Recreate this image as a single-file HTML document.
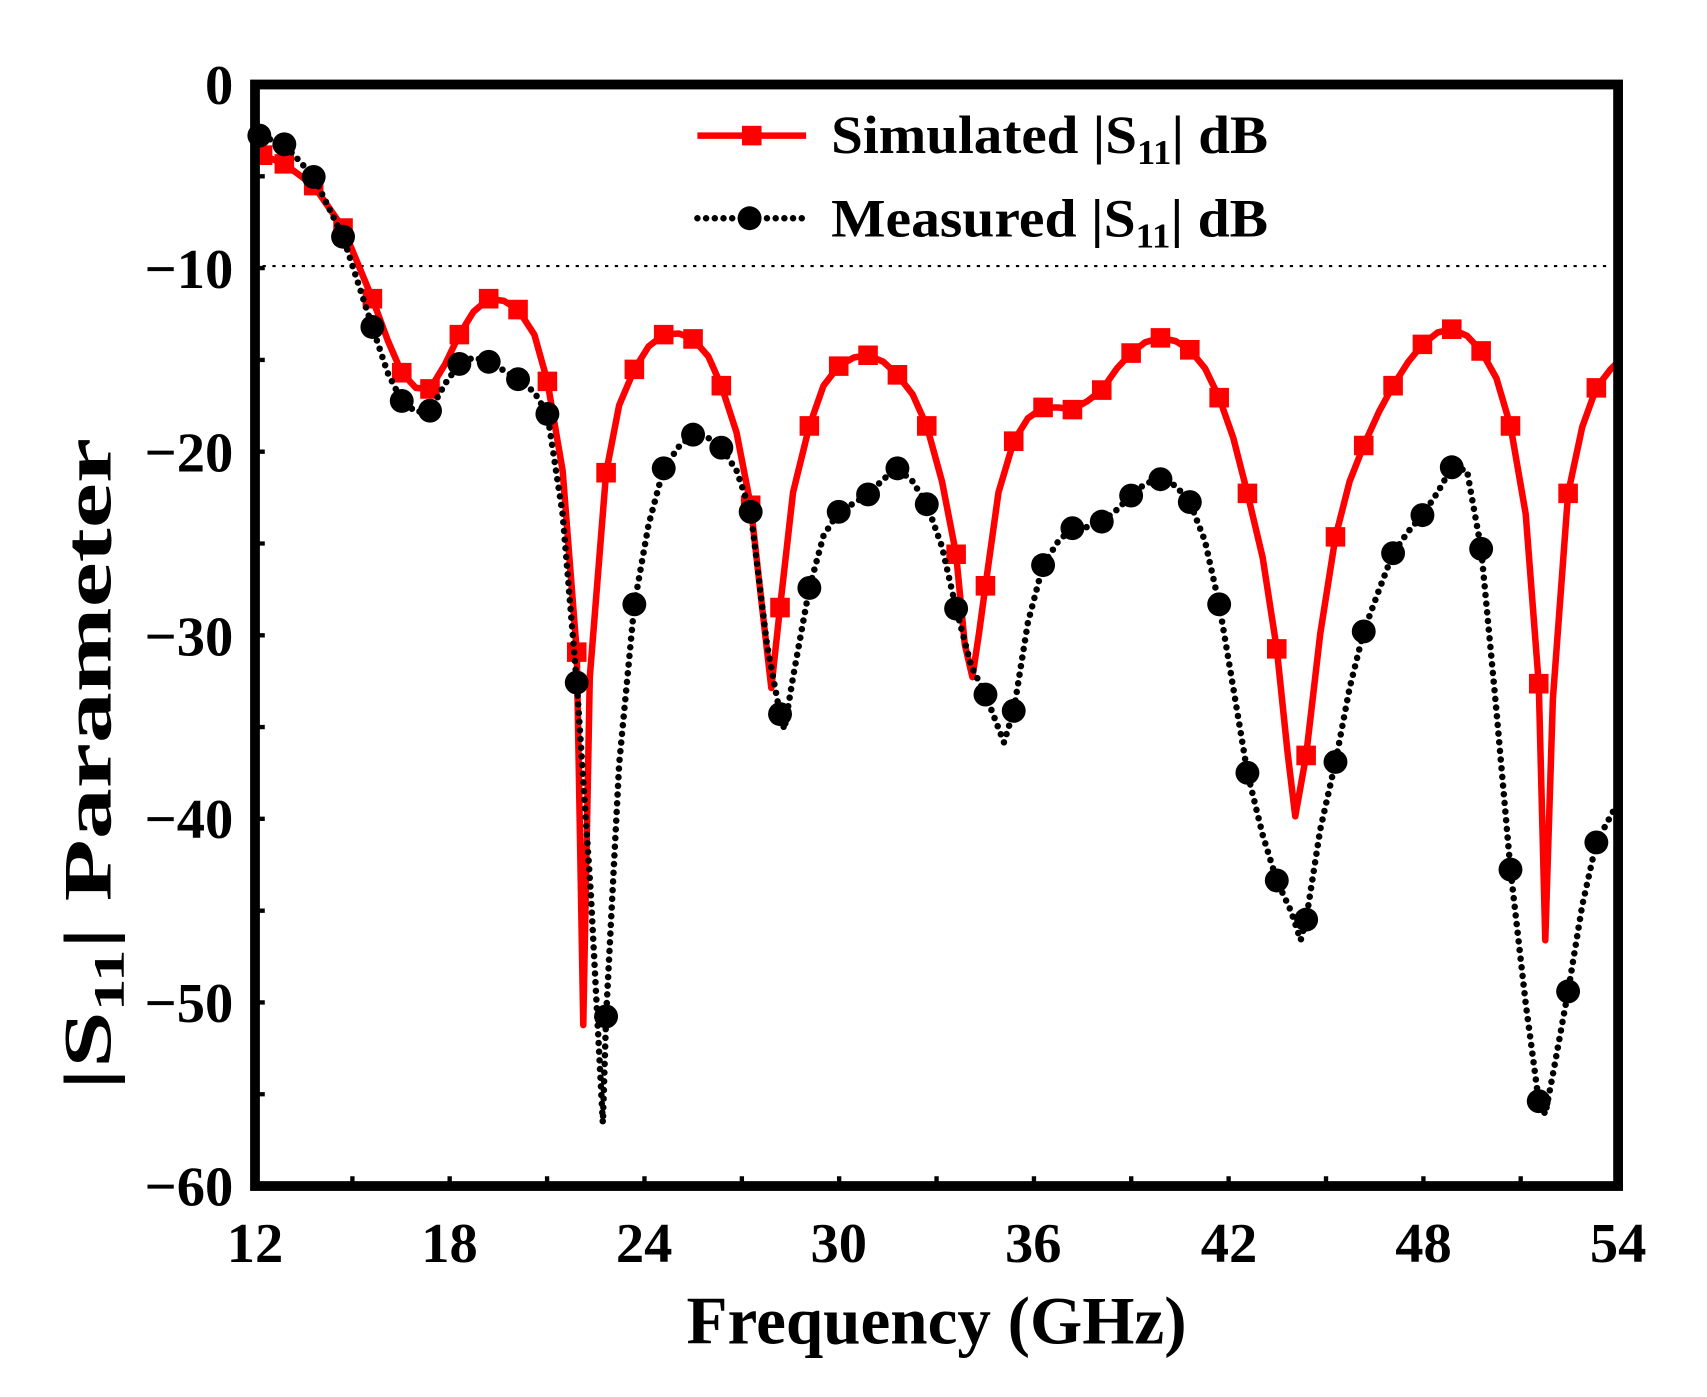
<!DOCTYPE html>
<html><head><style>html,body{margin:0;padding:0;background:#fff}svg{display:block}</style></head>
<body>
<svg width="1707" height="1397" viewBox="0 0 1707 1397" xmlns="http://www.w3.org/2000/svg" font-family="Liberation Serif, serif" font-weight="bold">
<g transform="translate(255,84.5) scale(1.087,1.0874) translate(-233,-75)">
<line x1="240" y1="242" x2="1482" y2="242" stroke="#000" stroke-width="2" stroke-dasharray="3 6"/>
<g stroke="#000" stroke-width="4">
<path d="M322.6,1088v-9M412.1,1088v-9M501.7,1088v-9M591.3,1088v-9M680.9,1088v-9M770.4,1088v-9M860,1088v-9M949.6,1088v-9M1039.1,1088v-9M1128.7,1088v-9M1218.3,1088v-9M1307.9,1088v-9M1397.4,1088v-9"/>
<path d="M233,159.4h9M233,243.8h9M233,328.3h9M233,412.7h9M233,497.1h9M233,581.5h9M233,665.9h9M233,750.3h9M233,834.8h9M233,919.2h9M233,1003.6h9"/>
</g>
<polyline fill="none" stroke="#f00" stroke-width="6" stroke-linejoin="round" points="233,140 240,140 260,148 287,168 314,207 341,272 355,310 368,340 381,354 394,355 408,332 421,305 434,284 448,272 462,274 475,282 490,305 502,348 516,430 529,597 535,940 541,620 556,432 568,370 582,337 595,316 609,305 623,304 636,309 650,325 662,352 676,395 689,462 700,560 708,630 716,556 728,450 743,389 756,352 770,334 784,326 797,324 811,330 824,342 838,360 851,389 865,440 878,507 886,590 893,620 899,580 905,536 917,450 931,403 944,382 958,372 972,372 985,374 999,366 1012,356 1026,336 1039,322 1052,312 1066,308 1080,311 1093,319 1107,336 1120,363 1133,400 1146,451 1160,510 1173,594 1183,690 1190,748 1195,720 1200,692 1213,580 1227,491 1240,440 1253,407 1267,376 1280,352 1294,330 1307,314 1321,303 1334,300 1348,306 1361,320 1375,345 1388,389 1402,470 1414,626 1420,862 1427,640 1441,451 1454,390 1467,354 1480,337 1487,330"/>
<g fill="#f00">
<path d="M231,131h18v18h-18zM251,139h18v18h-18zM278,159h18v18h-18zM305,198h18v18h-18zM332,263h18v18h-18zM359,331h18v18h-18zM385,346h18v18h-18zM412,296h18v18h-18zM439,263h18v18h-18zM466,273h18v18h-18zM493,339h18v18h-18zM520,588h18v18h-18zM547,423h18v18h-18zM573,328h18v18h-18zM600,296h18v18h-18zM627,300h18v18h-18zM653,343h18v18h-18zM680,453h18v18h-18zM707,547h18v18h-18zM734,380h18v18h-18zM761,325h18v18h-18zM788,315h18v18h-18zM815,333h18v18h-18zM842,380h18v18h-18zM869,498h18v18h-18zM896,527h18v18h-18zM922,394h18v18h-18zM949,363h18v18h-18zM976,365h18v18h-18zM1003,347h18v18h-18zM1030,313h18v18h-18zM1057,299h18v18h-18zM1084,310h18v18h-18zM1111,354h18v18h-18zM1137,442h18v18h-18zM1164,585h18v18h-18zM1191,683h18v18h-18zM1218,482h18v18h-18zM1244,398h18v18h-18zM1271,343h18v18h-18zM1298,305h18v18h-18zM1325,291h18v18h-18zM1352,311h18v18h-18zM1379,380h18v18h-18zM1405,617h18v18h-18zM1432,442h18v18h-18zM1458,345h18v18h-18z"/>
</g>
<polyline fill="none" stroke="#000" stroke-width="6" stroke-linecap="round" stroke-linejoin="round" stroke-dasharray="0 8" points="233,118 237,122 260,130 287,160 314,215 328,258 341,298 355,340 368,366 381,376 394,375 408,350 421,332 434,326 448,330 462,338 475,346 490,358 502,378 516,470 529,625 542,820 553,1030 556,932 568,700 582,553 595,480 609,428 623,408 636,397 650,400 662,409 676,430 689,468 704,590 716,654 720,668 728,620 743,538 756,490 770,468 784,460 797,452 811,438 824,428 838,440 851,461 865,500 878,557 892,610 905,636 922,680 931,651 944,570 958,517 972,495 985,483 999,482 1012,477 1026,466 1039,453 1052,442 1066,438 1080,444 1093,459 1107,495 1120,553 1133,630 1146,708 1160,765 1173,807 1186,835 1195,862 1200,843 1213,760 1227,698 1240,630 1253,578 1267,540 1280,506 1294,486 1307,471 1321,450 1334,427 1348,430 1361,502 1375,650 1388,797 1402,920 1414,1010 1420,1022 1428,980 1441,909 1454,830 1467,772 1480,748 1487,735"/>
<g fill="#000">
<circle cx="237" cy="122" r="11"/><circle cx="260" cy="130" r="11"/><circle cx="287" cy="160" r="11"/><circle cx="314" cy="215" r="11"/><circle cx="341" cy="298" r="11"/><circle cx="368" cy="366" r="11"/><circle cx="394" cy="375" r="11"/><circle cx="421" cy="332" r="11"/><circle cx="448" cy="330" r="11"/><circle cx="475" cy="346" r="11"/><circle cx="502" cy="378" r="11"/><circle cx="529" cy="625" r="11"/><circle cx="556" cy="932" r="11"/><circle cx="582" cy="553" r="11"/><circle cx="609" cy="428" r="11"/><circle cx="636" cy="397" r="11"/><circle cx="662" cy="409" r="11"/><circle cx="689" cy="468" r="11"/><circle cx="716" cy="654" r="11"/><circle cx="743" cy="538" r="11"/><circle cx="770" cy="468" r="11"/><circle cx="797" cy="452" r="11"/><circle cx="824" cy="428" r="11"/><circle cx="851" cy="461" r="11"/><circle cx="878" cy="557" r="11"/><circle cx="905" cy="636" r="11"/><circle cx="931" cy="651" r="11"/><circle cx="958" cy="517" r="11"/><circle cx="985" cy="483" r="11"/><circle cx="1012" cy="477" r="11"/><circle cx="1039" cy="453" r="11"/><circle cx="1066" cy="438" r="11"/><circle cx="1093" cy="459" r="11"/><circle cx="1120" cy="553" r="11"/><circle cx="1146" cy="708" r="11"/><circle cx="1173" cy="807" r="11"/><circle cx="1200" cy="843" r="11"/><circle cx="1227" cy="698" r="11"/><circle cx="1253" cy="578" r="11"/><circle cx="1280" cy="506" r="11"/><circle cx="1307" cy="471" r="11"/><circle cx="1334" cy="427" r="11"/><circle cx="1361" cy="502" r="11"/><circle cx="1388" cy="797" r="11"/><circle cx="1414" cy="1010" r="11"/><circle cx="1441" cy="909" r="11"/><circle cx="1467" cy="772" r="11"/>
</g>
<rect x="233" y="75" width="1254" height="1013" fill="none" stroke="#000" stroke-width="9"/>
<line x1="640" y1="122" x2="740" y2="122" stroke="#f00" stroke-width="6"/>
<rect x="681" y="113" width="18" height="18" fill="#f00"/>
<text x="763" y="138" font-size="50" textLength="402" lengthAdjust="spacingAndGlyphs">Simulated |S<tspan font-size="32" dy="10">11</tspan><tspan dy="-10">| dB</tspan></text>
<line x1="640" y1="198" x2="740" y2="198" stroke="#000" stroke-width="6" stroke-linecap="round" stroke-dasharray="0 8"/>
<circle cx="688" cy="198" r="11" fill="#000"/>
<text x="763" y="215" font-size="50" textLength="402" lengthAdjust="spacingAndGlyphs">Measured |S<tspan font-size="32" dy="10">11</tspan><tspan dy="-10">| dB</tspan></text>
<g font-size="52" text-anchor="middle">
<text x="233" y="1158">12</text><text x="412" y="1158">18</text><text x="591" y="1158">24</text><text x="770" y="1158">30</text><text x="949" y="1158">36</text><text x="1129" y="1158">42</text><text x="1308" y="1158">48</text><text x="1487" y="1158">54</text>
</g>
<g font-size="52" text-anchor="end">
<text x="213" y="93">0</text><text x="213" y="262">−10</text><text x="213" y="431">−20</text><text x="213" y="600">−30</text><text x="213" y="768">−40</text><text x="213" y="937">−50</text><text x="213" y="1106">−60</text>
</g>
<text x="630" y="1233" font-size="62" textLength="460" lengthAdjust="spacingAndGlyphs">Frequency (GHz)</text>
<text transform="translate(100,1000) rotate(-90)" font-size="62" textLength="600" lengthAdjust="spacingAndGlyphs">|S<tspan font-size="40" dy="12">11</tspan><tspan dy="-12">| Parameter</tspan></text>
</g>
</svg>
</body></html>
